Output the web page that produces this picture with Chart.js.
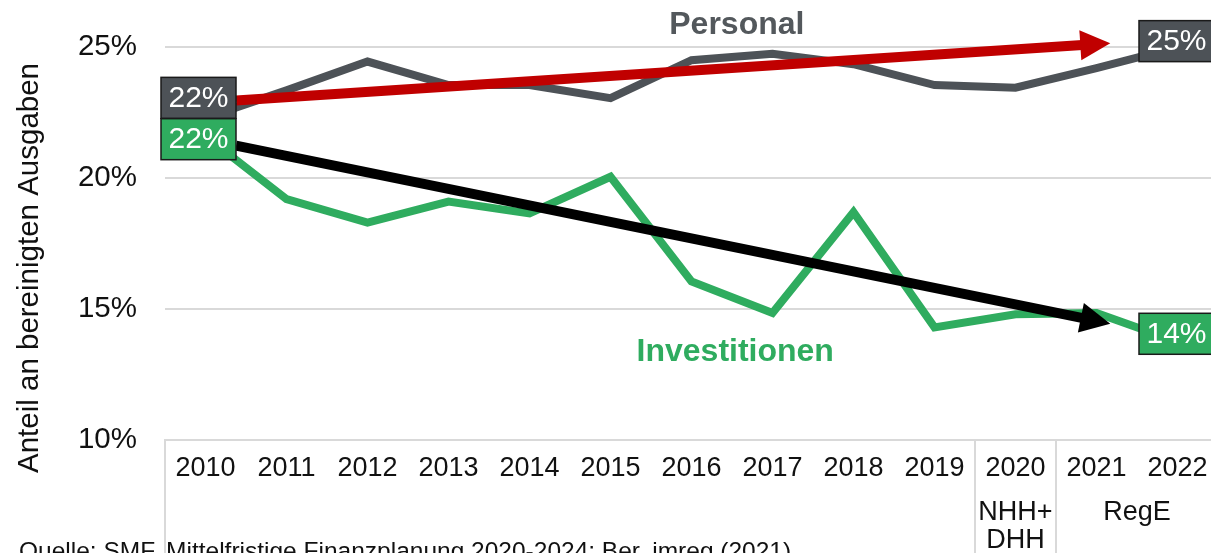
<!DOCTYPE html>
<html>
<head>
<meta charset="utf-8">
<script src="https://cdn.jsdelivr.net/npm/chart.js@4.4.1/dist/chart.umd.min.js"></script>
<style>
  html, body { margin: 0; padding: 0; background: #fff; overflow: hidden; width: 1211px; height: 553px; }
  #wrap { position: absolute; left: 0; top: 0; width: 1218px; height: 553px; }
</style>
</head>
<body>
<div id="wrap"><canvas id="c" width="1218" height="553"></canvas></div>
<script>
// ---- data ----
const years = ['2010','2011','2012','2013','2014','2015','2016','2017','2018','2019','2020','2021','2022'];
const personal = [22.3, 23.35, 24.45, 23.55, 23.55, 23.05, 24.5, 24.75, 24.35, 23.55, 23.45, 24.2, 25.0];
const investitionen = [21.6, 19.2, 18.3, 19.1, 18.65, 20.05, 16.05, 14.85, 18.7, 14.3, 14.8, 14.85, 13.75];
const yTicks = [10, 15, 20, 25];
const seriesNames = ['Personal', 'Investitionen'];
// trend arrows: [category index, value] start and end
const trendPersonal = [[0.377, 22.96], [11.17, 25.15]];
const trendInvest = [[0.377, 21.24], [11.17, 14.44]];
// category groups below the axis
const groupText = [['NHH+', 'DHH'], ['RegE']];
const groupFrom = [10, 11];
const groupTo = [10, 12];
const yTitle = 'Anteil an bereinigten Ausgaben';
const sourceText = 'Quelle: SMF, Mittelfristige Finanzplanung 2020-2024; Ber. imreg (2021)';

const FONT = '"Liberation Sans", Arial, Helvetica, sans-serif';
const GREY = '#4d5257';
const GREEN = '#2fac5f';
const GRID = '#d9d9d9';
const TXT = '#111111';

function arrow(ctx, x1, y1, x2, y2, color, w, headLen, headHalf) {
  const dx = x2 - x1, dy = y2 - y1, L = Math.hypot(dx, dy);
  const ux = dx / L, uy = dy / L;
  const bx = x2 - ux * headLen, by = y2 - uy * headLen;
  ctx.save();
  ctx.strokeStyle = color; ctx.fillStyle = color;
  ctx.lineWidth = w; ctx.lineCap = 'butt';
  ctx.beginPath(); ctx.moveTo(x1, y1); ctx.lineTo(bx + ux * 2, by + uy * 2); ctx.stroke();
  ctx.beginPath();
  ctx.moveTo(x2, y2);
  ctx.lineTo(bx - uy * headHalf, by + ux * headHalf);
  ctx.lineTo(bx + uy * headHalf, by - ux * headHalf);
  ctx.closePath(); ctx.fill();
  ctx.restore();
}

const decor = {
  id: 'decor',
  afterDatasetsDraw(chart) {
    const ctx = chart.ctx, xs = chart.scales.x, ys = chart.scales.y;
    const P = (p) => [xs.getPixelForValue(p[0]), ys.getPixelForValue(p[1])];
    // arrows
    let a = P(trendPersonal[0]), b = P(trendPersonal[1]);
    arrow(ctx, a[0], a[1], b[0], b[1], '#c00000', 10, 30, 15);
    a = P(trendInvest[0]); b = P(trendInvest[1]);
    arrow(ctx, a[0], a[1], b[0], b[1], '#000000', 10, 30, 15);
    // value boxes at first and last points
    const boxes = [
      {ds: 0, i: 0, dx: -7, dy: -20},
      {ds: 0, i: years.length - 1, dx: -1, dy: -6},
      {ds: 1, i: 0, dx: -7, dy: 3},
      {ds: 1, i: years.length - 1, dx: -1, dy: -8}
    ];
    boxes.forEach(bx => {
      const ds = chart.data.datasets[bx.ds];
      const v = ds.data[bx.i];
      const cx = xs.getPixelForValue(bx.i) + bx.dx;
      const cy = ys.getPixelForValue(v) + bx.dy;
      const w = 75, h = 41;
      ctx.save();
      ctx.fillStyle = ds.borderColor;
      ctx.fillRect(cx - w / 2, cy - h / 2, w, h);
      ctx.lineWidth = 1.5; ctx.strokeStyle = '#1a1a1a';
      ctx.strokeRect(cx - w / 2, cy - h / 2, w, h);
      ctx.fillStyle = '#ffffff';
      ctx.font = '30px ' + FONT;
      ctx.textAlign = 'center'; ctx.textBaseline = 'middle';
      ctx.fillText(Math.round(v) + '%', cx, cy + 1);
      ctx.restore();
    });
    // series titles
    ctx.save();
    ctx.font = 'bold 32px ' + FONT;
    ctx.textAlign = 'center'; ctx.textBaseline = 'middle';
    ctx.fillStyle = '#53585c';
    ctx.fillText(seriesNames[0], xs.getPixelForValue(6.56), ys.getPixelForValue(25.88) + 1);
    ctx.fillStyle = GREEN;
    ctx.fillText(seriesNames[1], xs.getPixelForValue(6.54), ys.getPixelForValue(13.38) + 1);
    ctx.restore();
  },
  afterDraw(chart) {
    const ctx = chart.ctx, xs = chart.scales.x, ca = chart.chartArea;
    const H = chart.height;
    const half = (xs.getPixelForValue(1) - xs.getPixelForValue(0)) / 2;
    ctx.save();
    // box lines below the axis
    ctx.strokeStyle = GRID; ctx.lineWidth = 2;
    const seps = [0].concat(groupFrom);
    seps.forEach(i => {
      const x = Math.round(xs.getPixelForValue(i) - half);
      ctx.beginPath(); ctx.moveTo(x, ca.bottom); ctx.lineTo(x, H); ctx.stroke();
    });
    // group labels
    ctx.fillStyle = TXT;
    ctx.font = '27px ' + FONT;
    ctx.textAlign = 'center'; ctx.textBaseline = 'middle';
    groupText.forEach((lines, g) => {
      const cx = (xs.getPixelForValue(groupFrom[g]) + xs.getPixelForValue(groupTo[g])) / 2;
      lines.forEach((t, k) => ctx.fillText(t, cx, ca.bottom + 73 + k * 28));
    });
    // source
    ctx.font = '24.5px ' + FONT;
    ctx.textAlign = 'left'; ctx.textBaseline = 'alphabetic';
    ctx.fillText(sourceText, 19, 559);
    // y title
    ctx.translate(30, 268);
    ctx.rotate(-Math.PI / 2);
    ctx.font = '29.5px ' + FONT;
    ctx.textAlign = 'center'; ctx.textBaseline = 'middle';
    ctx.fillText(yTitle, 0, 0);
    ctx.restore();
  }
};

new Chart(document.getElementById('c'), {
  type: 'line',
  data: {
    labels: years,
    datasets: [
      { label: seriesNames[0], data: personal, borderColor: GREY, backgroundColor: GREY,
        borderWidth: 8, pointRadius: 0, tension: 0, fill: false },
      { label: seriesNames[1], data: investitionen, borderColor: GREEN, backgroundColor: GREEN,
        borderWidth: 8, pointRadius: 0, tension: 0, fill: false }
    ]
  },
  options: {
    responsive: false,
    devicePixelRatio: 1,
    animation: false,
    layout: { padding: 0 },
    plugins: { legend: { display: false }, tooltip: { enabled: false }, title: { display: false } },
    scales: {
      x: {
        type: 'category',
        offset: true,
        grid: { display: false, drawTicks: false },
        border: { display: true, color: GRID, width: 2 },
        ticks: { color: TXT, font: { family: FONT, size: 27 }, padding: 12, maxRotation: 0, autoSkip: false },
        afterFit(axis) { axis.height = 113; axis.paddingLeft = 0; axis.paddingRight = 0; }
      },
      y: {
        min: 10, max: 26.8,
        grid: { color: GRID, lineWidth: 2, drawTicks: false },
        border: { display: false },
        ticks: { color: TXT, font: { family: FONT, size: 29.5 }, padding: 28, callback: v => v + '%' },
        afterBuildTicks(axis) { axis.ticks = yTicks.map(v => ({ value: v })); },
        afterFit(axis) { axis.width = 165; axis.paddingTop = 0; axis.paddingBottom = 0; }
      }
    }
  },
  plugins: [decor]
});
</script>
</body>
</html>
